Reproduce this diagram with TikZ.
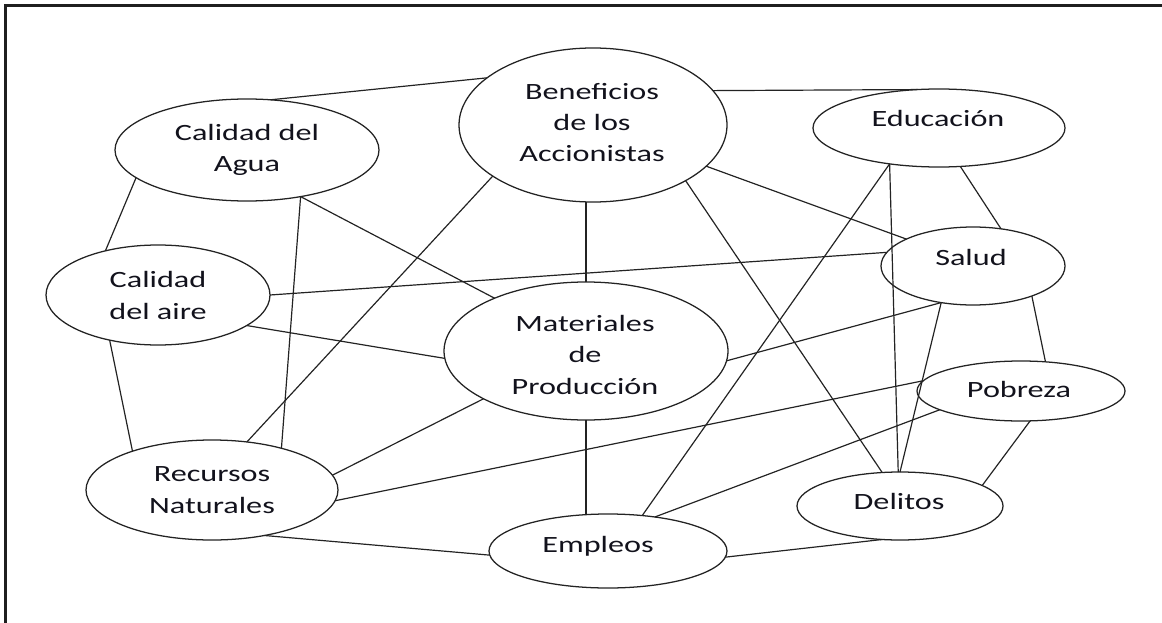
\documentclass[tikz,border=0pt]{standalone}
\usepackage{fontspec}
\newfontfamily\nodefont[FakeStretch=1.38]{Carlito}
\usetikzlibrary{shapes.geometric}
\definecolor{linecol}{RGB}{35,35,35}
\definecolor{txtcol}{RGB}{18,18,28}
\begin{document}
\begin{tikzpicture}[x=0.025cm,y=-0.025cm,
  bub/.style={ellipse,draw=linecol,line width=0.9pt,inner sep=0pt,outer sep=0pt},
  sz/.style 2 args={minimum width=#1*0.025cm,minimum height=#2*0.025cm},
  lbl/.style={anchor=base,align=center,inner sep=0pt,font=\nodefont\fontsize{16.6pt}{22.4pt}\selectfont,text=txtcol},
  link/.style={draw=linecol,line width=0.85pt},
  frame/.style={draw=black!88,line width=1.8pt}]
\useasboundingbox (0,0) rectangle (1162,623);
% frame (top and left edges)
\coordinate (fbl) at (5.5,623);
\coordinate (ftl) at (5.5,5.5);
\coordinate (ftr) at (1162,5.5);
\draw[frame] (fbl) -- (ftl) -- (ftr);

% ellipses
\node[bub,sz={268}{154}] (ben)   at (593,125) {};
\node[bub,sz={264}{102}] (agua)  at (247,150) {};
\node[bub,sz={252}{78}]  (edu)   at (939,128) {};
\node[bub,sz={224}{100}] (aire)  at (158,295) {};
\node[bub,sz={184}{78}]  (salud) at (973,266) {};
\node[bub,sz={284}{138}] (mat)   at (586,351) {};
\node[bub,sz={208}{60}]  (pob)   at (1021,391) {};
\node[bub,sz={252}{100}] (rec)   at (212,490) {};
\node[bub,sz={206}{68}]  (del)   at (900,506) {};
\node[bub,sz={238}{74}]  (emp)   at (608,551) {};

% labels (anchor = baseline of the last line)
\node[lbl] (ben-t)   at (592,162) {Beneficios\\de los\\Accionistas};
\node[lbl] (agua-t)  at (247,172) {Calidad del\\Agua};
\node[lbl] (aire-t)  at (158,319) {Calidad\\del aire};
\node[lbl] (rec-t)   at (212,513) {Recursos\\Naturales};
\node[lbl] (mat-t)   at (585,394) {Materiales\\de\\Producción};
\node[lbl] (edu-t)   at (938,127) {Educación};
\node[lbl] (salud-t) at (971,265) {Salud};
\node[lbl] (pob-t)   at (1019,397) {Pobreza};
\node[lbl] (del-t)   at (899,509) {Delitos};
\node[lbl] (emp-t)   at (598,552) {Empleos};

% connectors
\draw[link] (agua.65.7) -- (ben.156.9);
\draw[link] (agua.194.3) -- (aire.140.8);
\draw[link] (agua.319.2) -- (rec.31.8);
\draw[link] (agua.319.2) -- (mat.150.2);
\draw[link] (ben.207.5) -- (rec.54.5);
\draw[link] (mat.north |- ben.south) -- (mat.north);
\draw[link] (ben.16.8) -- (edu.119.4);
\draw[link] (ben.340) -- (salud.158.6);
\draw[link] (ben.329.8) -- (del.118.6);
\draw[link] (aire.east) -- (salud.171.9);
\draw[link] (aire.341) -- (mat.183.6);
\draw[link] (aire.223.4) -- (rec.154.3);
\draw[link] (edu.299.9) -- (salud.53.6);
\draw[link] (edu.216) -- (emp.46.6);
\draw[link] (edu.216) -- (del.93.5);
\draw[link] (salud.229.1) -- (mat.356.8);
\draw[link] (salud.229.1) -- (del.90);
\draw[link] (salud.333.1) -- (pob.50.2);
\draw[link] (pob.287.9) -- (del.14);
\draw[link] (pob.193.2) -- (emp.36.5);
\draw[link] (pob.174) -- (rec.355.9);
\draw[link] (del.242.1) -- (emp.357.6);
\draw[link] (mat.205.3) -- (rec.7.7);
\draw[link] (mat.south) -- (mat.south |- emp.north);
\draw[link] (rec.319.2) -- (emp.182.4);
\end{tikzpicture}
\end{document}
